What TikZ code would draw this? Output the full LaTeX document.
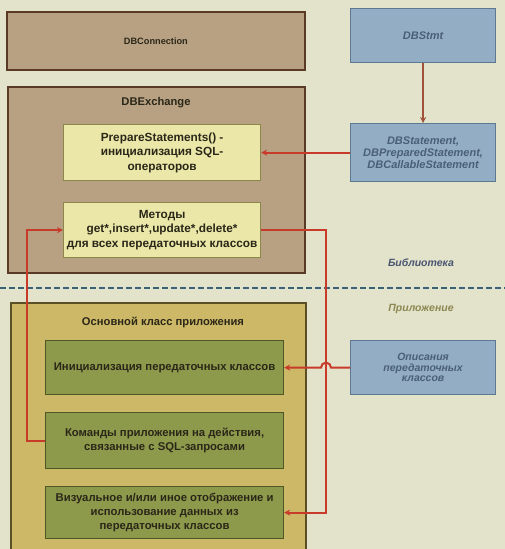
\documentclass[tikz,border=0pt]{standalone}
\usepackage{fontspec}
\setmainfont{Liberation Sans}
\usetikzlibrary{arrows.meta}
\definecolor{bgcol}{HTML}{E3E2CB}
\definecolor{tanfill}{HTML}{B8A183}
\definecolor{tanline}{HTML}{5A3A24}
\definecolor{bluefill}{HTML}{93AEC4}
\definecolor{blueline}{HTML}{5D7891}
\definecolor{bluetext}{HTML}{4A5F78}
\definecolor{yelfill}{HTML}{EAE7A9}
\definecolor{yelline}{HTML}{8C874A}
\definecolor{appfill}{HTML}{CCB866}
\definecolor{appline}{HTML}{5A4F25}
\definecolor{olivefill}{HTML}{8D994B}
\definecolor{oliveline}{HTML}{4D5824}
\definecolor{redcol}{HTML}{C83A2A}
\definecolor{browncol}{HTML}{A0523A}
\definecolor{dashcol}{HTML}{3A6277}
\definecolor{libcol}{HTML}{4A5670}
\definecolor{appcol}{HTML}{8C8850}
\definecolor{textcol}{HTML}{2A2718}
\tikzset{
  tanbox/.style={draw=tanline, fill=tanfill, line width=1.8pt, anchor=north west, inner sep=0pt},
  bluebox/.style={draw=blueline, fill=bluefill, line width=1.2pt, anchor=north west, inner sep=0pt,
     text=bluetext, align=center, font=\bfseries\itshape\fontsize{11}{12}\selectfont},
  yelbox/.style={draw=yelline, fill=yelfill, line width=1.2pt, anchor=north west, inner sep=0pt,
     text=textcol, align=center, font=\bfseries\fontsize{11.8}{14.5}\selectfont},
  appbox/.style={draw=appline, fill=appfill, line width=1.8pt, anchor=north west, inner sep=0pt},
  olivebox/.style={draw=oliveline, fill=olivefill, line width=1.2pt, anchor=north west, inner sep=0pt,
     text=textcol, align=center, font=\bfseries\fontsize{11.3}{14}\selectfont},
  titletext/.style={text=textcol, font=\bfseries\fontsize{11.2}{12}\selectfont},
  redarrow/.style={draw=redcol, line width=2pt, -{Stealth[length=6pt,width=6pt]}},
  brownarrow/.style={draw=browncol, line width=2pt, -{Stealth[length=6pt,width=6pt]}},
  sidelabel/.style={font=\bfseries\itshape\fontsize{10.5}{12}\selectfont}
}
\begin{document}
\begin{tikzpicture}[x=1pt,y=-1pt]
\useasboundingbox (0,0) rectangle (505,549);
\clip (0,0) rectangle (505,549);
\fill[bgcol] (0,0) rectangle (505,549);

% library part
\node[tanbox, minimum width=298pt, minimum height=58pt] (conn) at (6,11) {};
\node[titletext, font=\bfseries\fontsize{9.2}{11}\selectfont] (conntitle) at (conn.center) {DBConnection};

\node[bluebox, minimum width=145pt, minimum height=54pt] (stmt) at (350,8) {DBStmt};

\node[tanbox, minimum width=297pt, minimum height=186pt] (dbex) at (7,86) {};
\node[titletext] (dbextitle) at (156,103) {DBExchange};

\node[yelbox, minimum width=197pt, minimum height=56pt] (prep) at (63,124)
  {PrepareStatements() -\\инициализация SQL-\\операторов};
\node[yelbox, minimum width=197pt, minimum height=55pt] (meth) at (63,202)
  {Методы\\get*,insert*,update*,delete*\\для всех передаточных классов};

\node[bluebox, minimum width=145pt, minimum height=58pt] (stmtset) at (350,123)
  {DBStatement,\\DBPreparedStatement,\\DBCallableStatement};

\node[sidelabel, text=libcol] (lib) at (421,263) {Библиотека};

\draw[dashcol, line width=2.4pt, dash pattern=on 6pt off 3pt] (0,288) -- (505,288);

\node[sidelabel, text=appcol] (applab) at (421,309) {Приложение};

% application part
\node[appbox, minimum width=295pt, minimum height=260pt] (app) at (10,302) {};
\node[titletext] (apptitle) at (163,322) {Основной класс приложения};

\node[olivebox, minimum width=238pt, minimum height=54pt] (init) at (45,340)
  {Инициализация передаточных классов};
\node[olivebox, minimum width=238pt, minimum height=56pt] (cmd) at (45,412)
  {Команды приложения на действия,\\связанные с SQL-запросами};
\node[olivebox, minimum width=238pt, minimum height=52pt] (vis) at (45,486)
  {Визуальное и/или иное отображение и\\использование данных из\\передаточных классов};

\node[bluebox, minimum width=145pt, minimum height=54pt, font=\bfseries\itshape\fontsize{10.5}{10.5}\selectfont] (desc) at (350,340)
  {Описания\\передаточных\\классов};

% connectors
\coordinate (rx) at (326,0);
\draw[brownarrow] (stmt.south) -- (stmtset.north);
\draw[redarrow] (stmtset.west) -- (prep.east);
\draw[redarrow] (cmd.west) -- ++(-18,0) |- (meth.west);
\draw[redarrow] (meth.east) -- (meth.east -| rx) |- (vis.east);
\draw[redarrow] (desc.west) -- ([xshift=5pt]desc.west -| rx)
   arc[start angle=0, end angle=180, radius=5pt] -- (init.east);
\end{tikzpicture}
\end{document}
